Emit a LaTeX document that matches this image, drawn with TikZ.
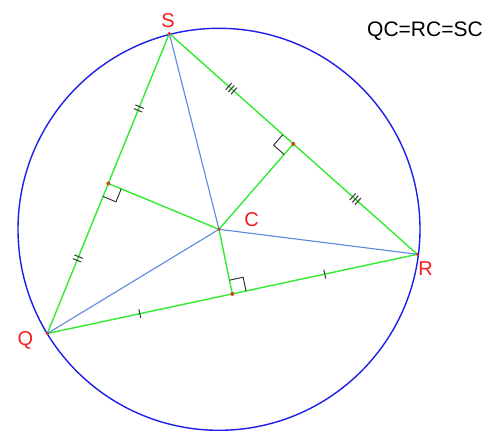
\documentclass[tikz,border=0pt]{standalone}
\usepackage{fontspec}
\setmainfont{Liberation Sans}
\usetikzlibrary{calc,decorations.markings}
\definecolor{circblue}{RGB}{30,30,235}
\definecolor{segblue}{RGB}{95,135,225}
\definecolor{seggreen}{RGB}{50,235,50}
\definecolor{lblred}{RGB}{245,30,30}
\definecolor{dotred}{RGB}{210,70,30}
\tikzset{
  circline/.style={draw=circblue,line width=1.4pt},
  greenline/.style={draw=seggreen,line width=1.4pt},
  blueline/.style={draw=segblue,line width=1.1pt},
  markline/.style={draw=black!85,line width=0.9pt},
  tickline/.style={draw=black!80,line width=1pt},
  lbl/.style={text=lblred,font=\fontsize{20}{20}\selectfont,inner sep=0pt},
  eqtext/.style={text=black,font=\fontsize{21}{21}\selectfont,inner sep=0pt},
  onetick/.style={postaction={decorate,decoration={markings,
     mark=at position 0.25 with {\draw[tickline] (0,-4.5pt)--(0,4.5pt);},
     mark=at position 0.75 with {\draw[tickline] (0,-4.5pt)--(0,4.5pt);}}}},
  twotick/.style={postaction={decorate,decoration={markings,
     mark=at position 0.25 with {\draw[tickline] (-2pt,-4.5pt)--(-2pt,4.5pt) (2pt,-4.5pt)--(2pt,4.5pt);},
     mark=at position 0.75 with {\draw[tickline] (-2pt,-4.5pt)--(-2pt,4.5pt) (2pt,-4.5pt)--(2pt,4.5pt);}}}},
  threetick/.style={postaction={decorate,decoration={markings,
     mark=at position 0.25 with {\draw[tickline] (-3.5pt,-4.5pt)--(-3.5pt,4.5pt) (0pt,-4.5pt)--(0pt,4.5pt) (3.5pt,-4.5pt)--(3.5pt,4.5pt);},
     mark=at position 0.75 with {\draw[tickline] (-3.5pt,-4.5pt)--(-3.5pt,4.5pt) (0pt,-4.5pt)--(0pt,4.5pt) (3.5pt,-4.5pt)--(3.5pt,4.5pt);}}}}
}
\begin{document}
\begin{tikzpicture}[x=1pt,y=-1pt]
\useasboundingbox (0,0) rectangle (499,433);
\fill[white] (0,0) rectangle (499,433);
\coordinate (S) at (169.3,33.5);
\coordinate (R) at (417.3,254.3);
\coordinate (Q) at (47.3,333.5);
\coordinate (C) at (219,229.3);
\coordinate (M1) at ($(Q)!0.5!(S)$);
\coordinate (M2) at ($(S)!0.5!(R)$);
\coordinate (M3) at ($(Q)!0.5!(R)$);
% circle
\draw[circline] (C) circle (201);
% triangle sides with ticks
\draw[greenline,twotick] (S) -- (Q);
\draw[greenline,threetick] (S) -- (R);
\draw[greenline,onetick] (Q) -- (R);
% perpendicular bisectors
\draw[greenline] (M1) -- (C);
\draw[greenline] (M2) -- (C);
\draw[greenline] (M3) -- (C);
% radii
\draw[blueline] (C) -- (S);
\draw[blueline] (C) -- (R);
\draw[blueline] (C) -- (Q);
% right angle marks
\coordinate (A1) at ($(M1)!14pt!(Q)$);
\coordinate (B1) at ($(M1)!14pt!(C)$);
\draw[markline] (A1) -- ($(A1)+(B1)-(M1)$) -- (B1);
\coordinate (A2) at ($(M2)!14pt!(S)$);
\coordinate (B2) at ($(M2)!14pt!(C)$);
\draw[markline] (A2) -- ($(A2)+(B2)-(M2)$) -- (B2);
\coordinate (A3) at ($(M3)!14pt!(R)$);
\coordinate (B3) at ($(M3)!14pt!(C)$);
\draw[markline] (A3) -- ($(A3)+(B3)-(M3)$) -- (B3);
% dots
\foreach \p in {M1,M2,M3} \fill[dotred] (\p) circle (2);
\foreach \p in {S,R,Q,C} \fill[lblred] (\p) circle (1.6);
% labels
\node[lbl] (Slbl) at (168,21) {S};
\node[lbl] (Rlbl) at (425.5,269) {R};
\node[lbl] (Qlbl) at (25.5,340) {Q};
\node[lbl] (Clbl) at (251.5,220) {C};
\node[eqtext] (eq) at (425,31) {QC=RC=SC};
\end{tikzpicture}
\end{document}
